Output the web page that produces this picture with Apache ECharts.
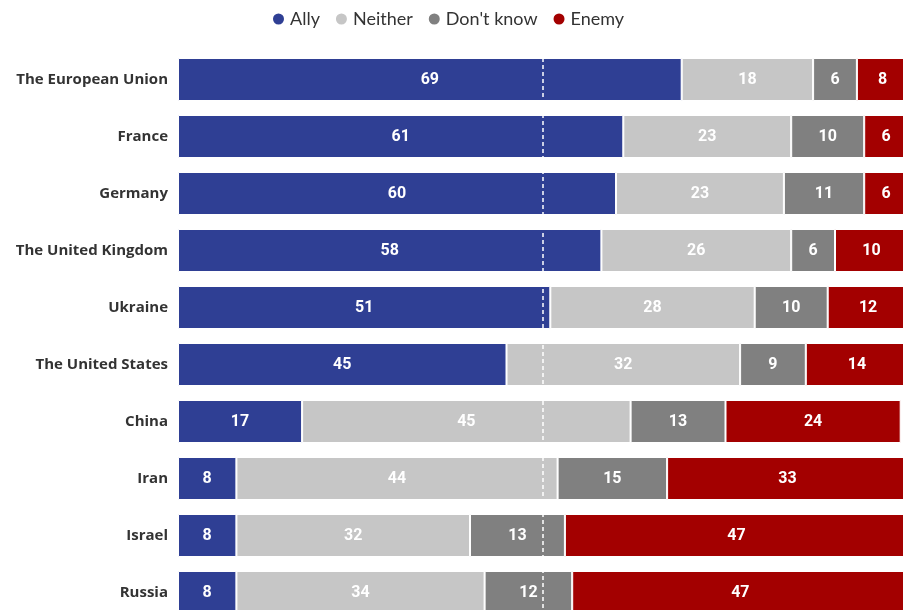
<!DOCTYPE html>
<html>
<head>
<meta charset="utf-8">
<script src="https://cdn.jsdelivr.net/npm/echarts@6/dist/echarts.min.js"></script>
<style>
  html, body { margin: 0; padding: 0; background: #fff; overflow: hidden; }
  #chart { width: 912px; height: 630px; }
</style>
</head>
<body>
<div id="chart"></div>
<script>
// Survey: how each country or bloc is seen (percent)
const countries = [
  'The European Union', 'France', 'Germany', 'The United Kingdom', 'Ukraine',
  'The United States', 'China', 'Iran', 'Israel', 'Russia'
];
const ally      = [69, 61, 60, 58, 51, 45, 17, 8, 8, 8];
const neither   = [18, 23, 23, 26, 28, 32, 45, 44, 32, 34];
const dontKnow  = [6, 10, 11, 6, 10, 9, 13, 15, 13, 12];
const enemy     = [8, 6, 6, 10, 12, 14, 24, 33, 47, 47];

const seriesDefs = [
  { name: 'Ally', data: ally, color: '#2f3f94' },
  { name: 'Neither', data: neither, color: '#c6c6c6' },
  { name: "Don't know", data: dontKnow, color: '#808080' },
  { name: 'Enemy', data: enemy, color: '#a30000' }
];

const chart = echarts.init(document.getElementById('chart'), null, { renderer: 'canvas' });

const series = seriesDefs.map((s, i) => {
  const item = {
    name: s.name,
    type: 'bar',
    stack: 'total',
    barWidth: 43,
    data: s.data,
    itemStyle: { color: s.color, borderColor: '#ffffff', borderWidth: 1 },
    label: {
      show: true,
      position: 'inside',
      color: '#ffffff',
      fontFamily: 'Roboto',
      fontWeight: 'bold',
      fontSize: 16
    },
    emphasis: { disabled: true }
  };
  if (i === seriesDefs.length - 1) {
    // 50% reference line drawn over all segments
    item.markLine = {
      silent: true,
      symbol: ['none', 'none'],
      label: { show: false },
      lineStyle: { color: '#ffffff', type: [4, 3], width: 1.5, opacity: 1 },
      data: [{ xAxis: 50 }]
    };
  }
  return item;
});

chart.setOption({
  animation: false,
  backgroundColor: '#ffffff',
  legend: {
    top: 5,
    left: 266,
    icon: 'circle',
    itemWidth: 13,
    itemHeight: 13,
    itemGap: 14,
    textStyle: { color: '#333333', fontFamily: 'Lato', fontSize: 18 },
    data: seriesDefs.map(s => s.name)
  },
  grid: { left: 178, top: 51, width: 730, height: 570, containLabel: false },
  xAxis: {
    type: 'value',
    min: 0,
    max: 100,
    show: false
  },
  yAxis: {
    type: 'category',
    inverse: true,
    data: countries,
    axisLine: { show: false },
    axisTick: { show: false },
    axisLabel: {
      margin: 10,
      color: '#333333',
      fontFamily: 'Open Sans',
      fontWeight: 'bold',
      fontSize: 15
    }
  },
  series: series
});
</script>
</body>
</html>
